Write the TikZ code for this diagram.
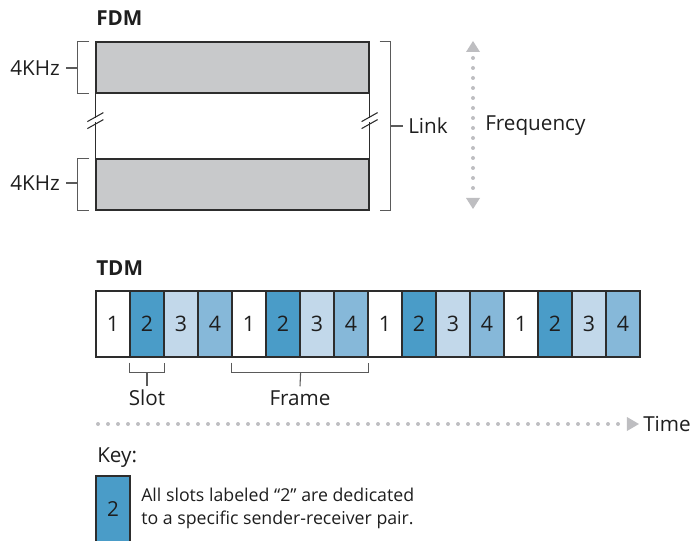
\documentclass[tikz,border=0pt]{standalone}
\usepackage{fontspec}
\setmainfont{Open Sans}
\definecolor{edge}{RGB}{45,45,45}
\definecolor{brk}{RGB}{90,90,90}
\definecolor{band}{RGB}{200,201,203}
\definecolor{ctwo}{RGB}{74,156,200}
\definecolor{cthree}{RGB}{194,216,234}
\definecolor{cfour}{RGB}{134,184,217}
\definecolor{dotc}{RGB}{190,190,193}
\definecolor{txt}{RGB}{30,30,30}
\begin{document}
\begin{tikzpicture}[x=0.75pt,y=-0.75pt,
  lbl/.style={font=\fontsize{15.5}{18}\selectfont, text=txt, inner sep=0pt},
  ttl/.style={font=\fontsize{15.5}{18}\selectfont\bfseries, text=txt, inner sep=0pt, anchor=west},
  keytxt/.style={font=\fontsize{13.3}{17.3}\selectfont, text=txt, inner sep=0pt, anchor=west, align=left},
  bandbox/.style={draw=edge, line width=0.9pt, fill=band, minimum width=204.75pt, minimum height=38.25pt, inner sep=0pt},
  slotbox/.style={draw=edge, line width=0.9pt, minimum width=25.5pt, minimum height=49.5pt, inner sep=0pt, font=\fontsize{16}{18}\selectfont, text=txt},
  bracketline/.style={draw=brk, line width=0.8pt},
  dotline/.style={draw=dotc, line width=3pt, line cap=round, dash pattern=on 0pt off 7.5pt}
]
\useasboundingbox (0,0) rectangle (692,541);

% ---------- FDM ----------
\node[ttl] (fdm) at (96,18) {FDM};
\node[bandbox] (b1) at (232.5,67.5) {};
\node[bandbox] (b2) at (232.5,184.5) {};

% side lines with break marks
\coordinate (lt) at (b1.south west);
\coordinate (lb) at (b2.north west);
\coordinate (rt) at (b1.south east);
\coordinate (rb) at (b2.north east);
\draw[edge, line width=0.9pt] (lt) -- ++(0,24);
\draw[edge, line width=0.9pt] (lb) -- ++(0,-36);
\draw[edge, line width=0.9pt] (rt) -- ++(0,24);
\draw[edge, line width=0.9pt] (rb) -- ++(0,-36);
\draw[edge, line width=0.8pt] ([shift={(-8,28)}]lt) -- ++(16,-9);
\draw[edge, line width=0.8pt] ([shift={(-8,35)}]lt) -- ++(16,-9);
\draw[edge, line width=0.8pt] ([shift={(-8,28)}]rt) -- ++(16,-9);
\draw[edge, line width=0.8pt] ([shift={(-8,35)}]rt) -- ++(16,-9);

% left brackets
\draw[bracketline] ([shift={(-6,0)}]b1.north west) -- ++(-12,0) -- ([shift={(-18,0)}]b1.south west) -- ++(12,0);
\draw[bracketline] ([shift={(-6,0)}]b2.north west) -- ++(-12,0) -- ([shift={(-18,0)}]b2.south west) -- ++(12,0);
\node[lbl, anchor=east] (k1) at (60,68) {4KHz};
\node[lbl, anchor=east] (k2) at (60,183) {4KHz};
\draw[bracketline] ([shift={(6,0)}]k1.east) -- (78,68);
\draw[bracketline] ([shift={(6,0)}]k2.east) -- (78,183);

% right bracket
\draw[bracketline] ([shift={(10,0)}]b1.north east) -- ++(11,0) -- ([shift={(21,0)}]b2.south east) -- ++(-11,0);
\coordinate (rmid) at (390,126);
\node[lbl, anchor=west] (link) at (408,126) {Link};
\draw[bracketline] (rmid) -- ([shift={(-5,0)}]link.west);

% frequency arrow
\coordinate (ftop) at (473,41);
\coordinate (fbot) at (473,209);
\draw[dotline] (473,58) -- (473,194);
\fill[dotc] (ftop) -- ++(7,11) -- ++(-14,0) -- cycle;
\fill[dotc] (fbot) -- ++(7,-11) -- ++(-14,0) -- cycle;
\node[lbl, anchor=west] (freq) at (485,126) {Frequency};

% ---------- TDM ----------
\node[ttl] (tdm) at (96,268) {TDM};
\foreach \i/\n/\c in {1/1/white,2/2/ctwo,3/3/cthree,4/4/cfour,
                      5/1/white,6/2/ctwo,7/3/cthree,8/4/cfour,
                      9/1/white,10/2/ctwo,11/3/cthree,12/4/cfour,
                      13/1/white,14/2/ctwo,15/3/cthree,16/4/cfour}{
  \node[slotbox, fill=\c] (s\i) at ({113+34*(\i-1)},324) {\n};
}

% slot bracket
\draw[bracketline] ([shift={(0,5)}]s2.south west) -- ++(0,10) -- ([shift={(0,15)}]s2.south east) -- ++(0,-10);
\node[lbl] (slot) at (147,398) {Slot};
\draw[bracketline] ([shift={(0,15)}]s2.south) -- ([shift={(0,-4)}]slot.north);

% frame bracket
\draw[bracketline] ([shift={(0,5)}]s5.south west) -- ++(0,10) -- ([shift={(0,15)}]s8.south east) -- ++(0,-10);
\coordinate (fmid) at ([shift={(0,15)}]s6.south east);
\node[lbl] (frame) at (300,398) {Frame};
\draw[bracketline] (fmid) -- ([shift={(0,-4)}]frame.north);

% time arrow
\node[lbl, anchor=east] (time) at (691,424) {Time};
\coordinate (ttip) at ([shift={(-4,0)}]time.west);
\draw[dotline] (98,424) -- ([shift={(-14,0)}]ttip);
\fill[dotc] (ttip) -- ++(-12,-7) -- ++(0,14) -- cycle;

% ---------- Key ----------
\node[lbl, anchor=west] (key) at (97,458) {Key:};
\draw[edge, line width=0.9pt, fill=ctwo] (96,545) -- (96,476) -- (130,476) -- (130,545);
\node[lbl] (keytwo) at (113,509) {2};
\node[keytxt] (ktext) at (141,508.5) {All slots labeled \char"201C 2\char"201D\ are dedicated\\to a specific sender-receiver pair.};
\end{tikzpicture}
\end{document}
